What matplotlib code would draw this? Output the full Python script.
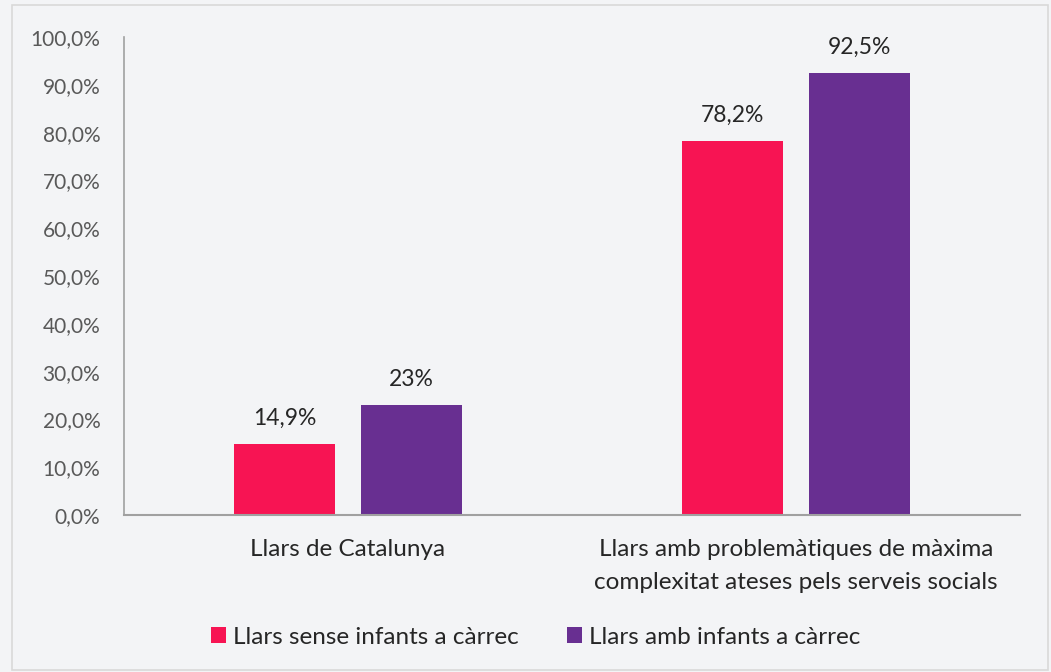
import numpy as np
import matplotlib
matplotlib.use("Agg")
import matplotlib.pyplot as plt
from matplotlib.patches import Rectangle, Patch

# Dades
categories = ["Llars de Catalunya",
              "Llars amb problemàtiques de màxima\ncomplexitat ateses pels serveis socials"]
sense_infants = [14.9, 78.2]
amb_infants = [23.0, 92.5]
etiquetes_sense = ["14,9%", "78,2%"]
etiquetes_amb = ["23%", "92,5%"]
series_noms = ["Llars sense infants a càrrec", "Llars amb infants a càrrec"]
yticks = np.arange(0, 101, 10)

color_vermell = "#F71453"
color_lila = "#682F91"
fons = "#F3F4F6"
text_fosc = "#262626"
text_gris = "#595959"

plt.rcParams['font.family'] = ['Lato', 'DejaVu Sans']

fig = plt.figure(figsize=(10.51, 6.72), dpi=100, facecolor=fons)
# marc exterior
fig.patches.append(Rectangle((12/1051, 2/672), 1036/1051, 665/672, transform=fig.transFigure,
                             fill=False, edgecolor="#D9D9D9", linewidth=1.2))

ax = fig.add_axes([124/1051, 1 - 515/672, 896/1051, (515 - 37)/672])
ax.set_facecolor(fons)

x = np.arange(len(categories))
amplada = 0.225
despl = 0.1417

b1 = ax.bar(x - despl, sense_infants, amplada, color=color_vermell, label=series_noms[0])
b2 = ax.bar(x + despl, amb_infants, amplada, color=color_lila, label=series_noms[1])

for rect, txt in zip(b1, etiquetes_sense):
    ax.annotate(txt, (rect.get_x() + rect.get_width()/2, rect.get_height()),
                xytext=(0, 15), textcoords="offset pixels", ha="center", va="bottom",
                fontsize=16.5, color=text_fosc)
for rect, txt in zip(b2, etiquetes_amb):
    ax.annotate(txt, (rect.get_x() + rect.get_width()/2, rect.get_height()),
                xytext=(0, 15), textcoords="offset pixels", ha="center", va="bottom",
                fontsize=16.5, color=text_fosc)

ax.set_xlim(-0.5, 1.5)
ax.set_ylim(0, 100)
ax.set_yticks(yticks)
ax.set_yticklabels([f"{v:.1f}%".replace(".", ",") for v in yticks], fontsize=15, color=text_gris)
ax.set_xticks(x)
ax.set_xticklabels(categories, fontsize=17.5, color=text_fosc, linespacing=1.75)
ax.tick_params(axis="both", length=0)
ax.tick_params(axis="y", pad=17)
ax.tick_params(axis="x", pad=17)

for s in ["top", "right"]:
    ax.spines[s].set_visible(False)
ax.spines["left"].set_color("#A0A0A0")
ax.spines["bottom"].set_color("#A0A0A0")
ax.spines["left"].set_linewidth(1.2)
ax.spines["bottom"].set_linewidth(1.5)

handles = [Patch(facecolor=color_vermell), Patch(facecolor=color_lila)]
fig.legend(handles, series_noms, loc="center", bbox_to_anchor=(536/1051, 1 - 637/672),
           ncol=2, frameon=False, fontsize=17.5, handlelength=0.6, handleheight=0.6,
           handletextpad=0.3, columnspacing=2.0, labelcolor=text_fosc)

fig.savefig("out.png", dpi=100, facecolor=fons)
